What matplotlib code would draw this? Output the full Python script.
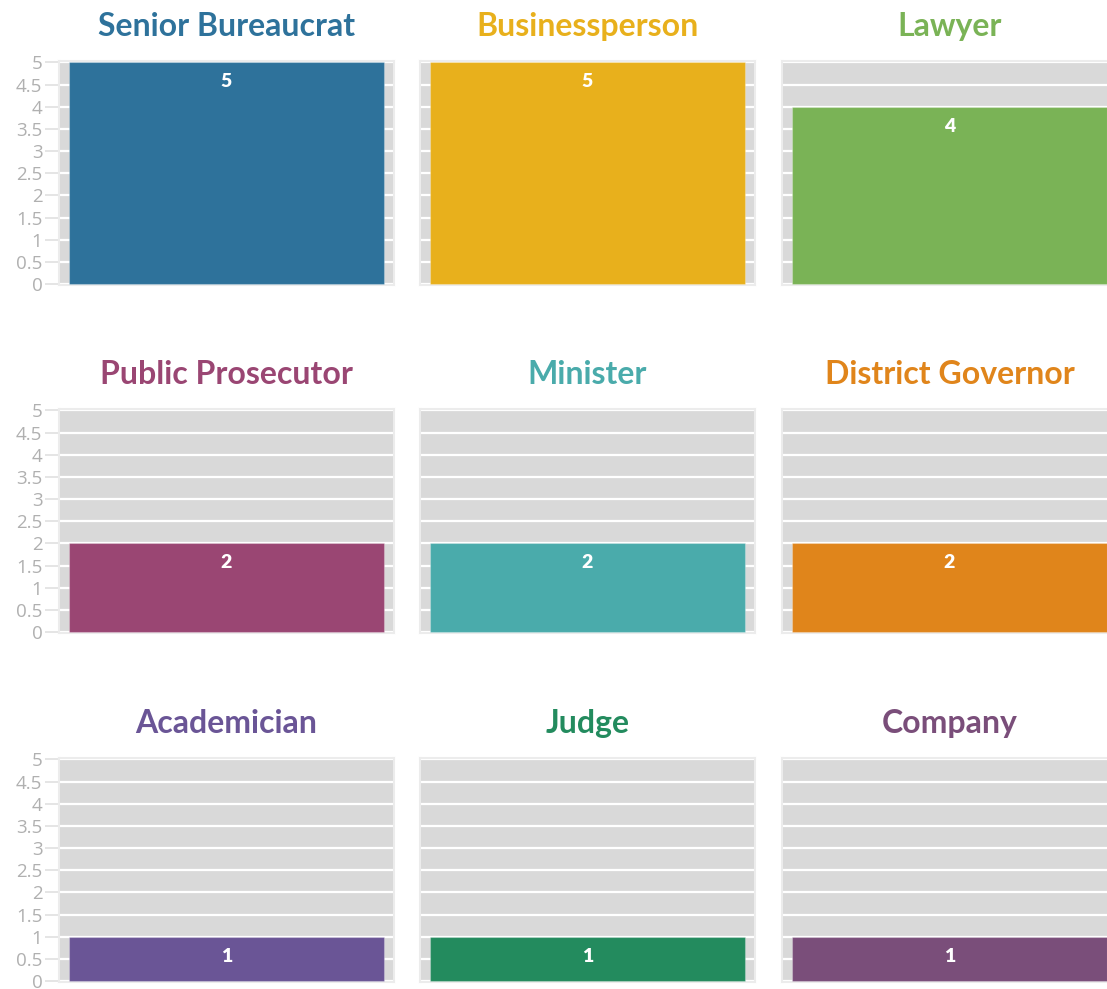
import matplotlib
matplotlib.use("Agg")
import matplotlib.pyplot as plt
import numpy as np

categories = ["Senior Bureaucrat", "Businessperson", "Lawyer",
              "Public Prosecutor", "Minister", "District Governor",
              "Academician", "Judge", "Company"]
values = [5, 5, 4, 2, 2, 2, 1, 1, 1]
colors = ["#2e729b", "#e8b01c", "#7ab356", "#9a4673", "#4aabab",
          "#e0851b", "#6a5596", "#238b5e", "#7a4e7a"]
yticks = [0, 0.5, 1, 1.5, 2, 2.5, 3, 3.5, 4, 4.5, 5]
ytick_labels = ["0", "0.5", "1", "1.5", "2", "2.5", "3", "3.5", "4", "4.5", "5"]

W, H = 1107, 989
fig = plt.figure(figsize=(W / 100, H / 100), dpi=100)

col_left = [59, 420, 782]
col_w = 335
row_top = [61, 409, 758]
row_h = 224

for i, (cat, val, col) in enumerate(zip(categories, values, colors)):
    r, c = divmod(i, 3)
    left = col_left[c] / W
    bottom = 1 - (row_top[r] + row_h) / H
    ax = fig.add_axes([left, bottom, col_w / W, row_h / H])
    ax.set_facecolor("#d9d9d9")
    ax.set_xlim(-0.5, 0.5)
    ax.set_ylim(-0.02, 5.03)
    ax.set_yticks(yticks)
    ax.set_yticklabels(ytick_labels if c == 0 else [])
    ax.set_xticks([])
    ax.grid(axis="y", color="white", linewidth=1.6)
    ax.set_axisbelow(True)
    for s in ax.spines.values():
        s.set_color("#ececec")
        s.set_linewidth(1.5)
    if c == 0:
        ax.tick_params(axis="y", length=10, width=1.3, color="#e3e3e3",
                       labelcolor="#b0b0b0", labelsize=13.5, pad=2)
    else:
        ax.tick_params(axis="y", length=0)
    for lab in ax.get_yticklabels():
        lab.set_family("Open Sans")
    ax.bar([0], [val], width=0.943, color=col, edgecolor="#ffffff40",
           linewidth=0.8, zorder=3)
    ax.annotate(str(val), xy=(0, val), xytext=(0, -14), textcoords="offset points",
                ha="center", va="center", color="white", fontsize=14,
                fontweight="heavy", family="Lato", zorder=4)
    ax.set_title(cat, color=col, fontsize=23, fontweight="bold", family="Lato",
                 pad=18)

fig.savefig("out.png", dpi=100)
